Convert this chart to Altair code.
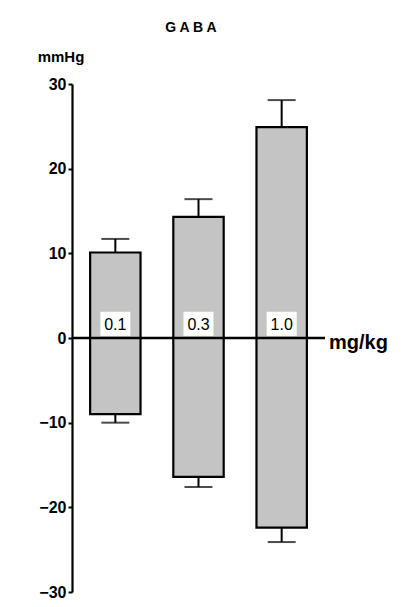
import altair as alt
import pandas as pd

doses = ["0.1", "0.3", "1.0"]
rise = [10.1, 14.3, 24.9]
rise_err = [1.6, 2.1, 3.2]
fall = [-9.0, -16.4, -22.4]
fall_err = [1.0, 1.2, 1.7]
y_ticks = [-30, -20, -10, 0, 10, 20, 30]

W, H = 253, 508
FONT = "Liberation Sans"

bars = pd.DataFrame({
    "dose": doses * 2,
    "lo": [0.0] * 3 + fall,
    "hi": rise + [0.0] * 3,
})
errs = pd.DataFrame({
    "dose": doses * 2,
    "start": rise + fall,
    "end": [r + e for r, e in zip(rise, rise_err)] + [f - e for f, e in zip(fall, fall_err)],
})
labels = pd.DataFrame({"dose": doses})

xs = alt.X("dose:N", sort=doses, axis=None,
           scale=alt.Scale(paddingInner=0.394, paddingOuter=0.218))
yscale = alt.Scale(domain=[-30, 30], nice=False, zero=False)

base_bars = alt.Chart(bars).mark_bar(color="#c4c4c4", stroke="black", strokeWidth=2.2).encode(
    x=xs,
    y=alt.Y("lo:Q", scale=yscale, title=None,
            axis=alt.Axis(values=y_ticks, format="d", domainColor="black", domainWidth=2.2,
                          tickColor="black", tickWidth=2, tickSize=4, grid=False,
                          labelFont=FONT, labelFontSize=16, labelColor="black",
                          labelFontWeight="bold", labelPadding=2)),
    y2="hi:Q",
)

err_rule = alt.Chart(errs).mark_rule(color="black", strokeWidth=2).encode(
    x=xs, y=alt.Y("start:Q", scale=yscale), y2="end:Q"
)
err_cap = alt.Chart(errs).mark_tick(color="black", thickness=2, size=28).encode(
    x=xs, y=alt.Y("end:Q", scale=yscale)
)

label_box = alt.Chart(labels).mark_bar(width=30, color="white").encode(
    x=xs, y=alt.datum(0.25), y2=alt.datum(3.1)
)
label_txt = alt.Chart(labels).mark_text(font=FONT, fontSize=16, color="black",
                                        baseline="middle").encode(
    x=xs, y=alt.datum(1.55), text="dose:N"
)

zero = alt.Chart(pd.DataFrame({"v": [0]})).mark_rule(color="black", strokeWidth=2.5).encode(
    y=alt.Y("v:Q", scale=yscale), x=alt.value(0), x2=alt.value(W)
)
unit = alt.Chart(pd.DataFrame({"t": ["mg/kg"]})).mark_text(
    font=FONT, fontSize=20, fontWeight="bold", align="left", baseline="middle", color="black"
).encode(x=alt.value(W + 4), y=alt.value(H / 2 + 5), text="t:N")

title = alt.Chart(pd.DataFrame({"t": ["G A B A"]})).mark_text(
    font=FONT, fontSize=14, fontWeight="bold", align="center", baseline="middle", color="black"
).encode(x=alt.value(119), y=alt.value(-56), text="t:N")
ylab = alt.Chart(pd.DataFrame({"t": ["mmHg"]})).mark_text(
    font=FONT, fontSize=15, fontWeight="bold", align="center", baseline="middle", color="black"
).encode(x=alt.value(-11), y=alt.value(-27), text="t:N")

chart = alt.layer(base_bars, err_rule, err_cap, zero, label_box, label_txt, unit, title, ylab).properties(
    width=W, height=H,
    autosize=alt.AutoSizeParams(type="none"),
    padding={"left": 64, "top": 76, "right": 85, "bottom": 7},
).configure_view(stroke=None)

chart.save("out.html", embed_options={"renderer": "svg", "actions": False})
